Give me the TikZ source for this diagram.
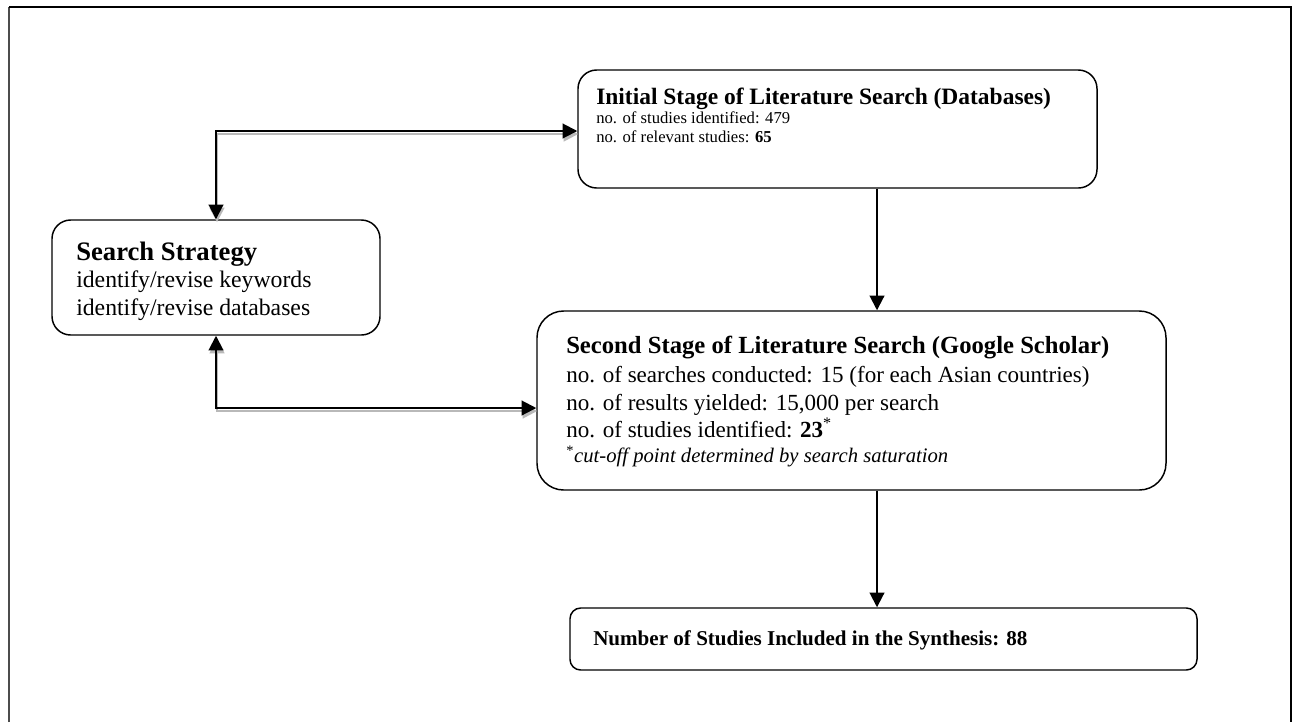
\documentclass[tikz,border=0pt]{standalone}
\usepackage{fontspec}
\setmainfont{Liberation Serif}
\usetikzlibrary{arrows.meta}
\begin{document}
\begin{tikzpicture}[x=0.75pt,y=-0.75pt,
  >={Triangle[length=11pt,width=11pt]},
  box/.style={draw, line width=1.1pt, inner sep=0pt},
  conn/.style={line width=1.5pt},
  shadowed/.style={preaction={draw=gray!55, line width=2pt, transform canvas={shift={(0.75pt,-2.25pt)}}}},
  txt/.style={anchor=base west, inner sep=0pt},
  frame/.style={line width=1pt}]
\useasboundingbox (0,0) rectangle (1294,722);

% outer frame (open at bottom)
\draw[line width=2pt, black!70] (9,722) -- (9,7);
\draw[frame] (9,7) -- (1291,7) -- (1291,722);

% boxes
\node[box, rounded corners=14pt, minimum width=389.25pt, minimum height=88.5pt] (init) at (837.5,129) {};
\node[box, rounded corners=14pt, minimum width=246pt, minimum height=86.25pt] (ss) at (216,277.5) {};
\node[box, rounded corners=20pt, minimum width=471.75pt, minimum height=134.25pt] (sec) at (851.5,400.5) {};
\node[box, rounded corners=8pt, minimum width=470.25pt, minimum height=46.5pt] (fin) at (883.5,639) {};

% texts
\node[txt, font=\fontsize{17.6}{20}\selectfont\bfseries] (ia) at (596,104) {Initial Stage of Literature Search (Databases)};
\node[txt, font=\fontsize{12.5}{15}\selectfont] (ib) at (596,123) {no. of studies identified: 479};
\node[txt, font=\fontsize{12.5}{15}\selectfont] (ic) at (596,142) {no. of relevant studies: \textbf{65}};

\node[txt, font=\fontsize{20}{24}\selectfont\bfseries] (sa) at (76,260) {Search Strategy};
\node[txt, font=\fontsize{17.8}{21}\selectfont] (sb) at (76,287) {identify/revise keywords};
\node[txt, font=\fontsize{17.8}{21}\selectfont] (sc) at (76,315) {identify/revise databases};

\node[txt, font=\fontsize{18.5}{22}\selectfont\bfseries] (ea) at (566,353) {Second Stage of Literature Search (Google Scholar)};
\node[txt, font=\fontsize{17.3}{20}\selectfont] (eb) at (566,382) {no. of searches conducted: 15 (for each Asian countries)};
\node[txt, font=\fontsize{17.3}{20}\selectfont] (ec) at (566,410) {no. of results yielded: 15,000 per search};
\node[txt, font=\fontsize{17.3}{20}\selectfont] (ed) at (566,437) {no. of studies identified: \textbf{23}\textsuperscript{*}};
\node[txt, font=\fontsize{15.5}{18}\selectfont] (ee) at (566,462) {\textsuperscript{*}\textit{cut-off point determined by search saturation}};

\node[txt, font=\fontsize{15.8}{19}\selectfont\bfseries] (fa) at (593,645) {Number of Studies Included in the Synthesis: 88};

% connectors
\coordinate (ca) at (216,131);
\coordinate (cb) at (216,408);
\coordinate (cv) at (877,0);
\draw[conn, shadowed, <->] (ca |- ss.north) -- (ca) -- (ca -| init.west);
\draw[conn, shadowed, <->] (ca |- ss.south) -- (cb) -- (cb -| sec.west);
\draw[conn, ->] (cv |- init.south) -- (cv |- sec.north);
\draw[conn, ->] (cv |- sec.south) -- (cv |- fin.north);
\end{tikzpicture}
\end{document}
